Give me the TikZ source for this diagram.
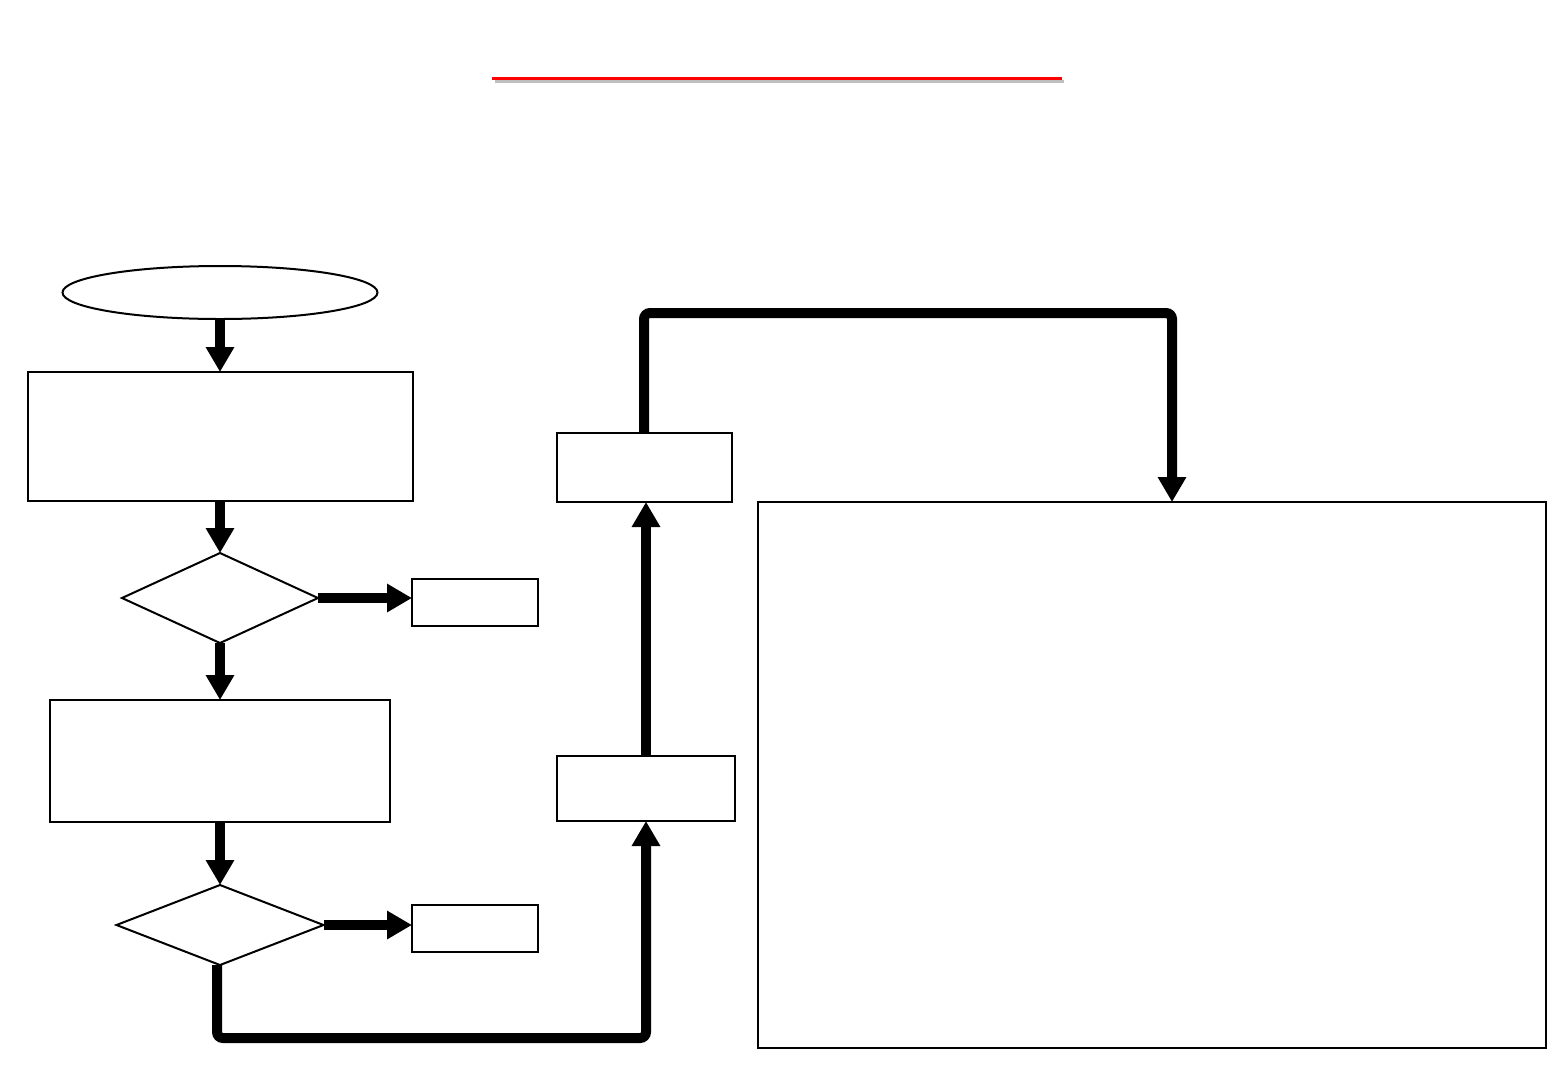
\documentclass[tikz,border=0pt]{standalone}
\usetikzlibrary{shapes.geometric,arrows.meta}
\begin{document}
\begin{tikzpicture}[x=1pt,y=-1pt,
  box/.style={draw,line width=2pt,rectangle,inner sep=0pt,outer sep=0pt},
  smallbox/.style={draw,line width=1.5pt,rectangle,inner sep=0pt,outer sep=0pt,minimum width=126pt,minimum height=47pt},
  decision/.style={draw,line width=2pt,diamond,inner sep=0pt,outer sep=0pt},
  flow/.style={line width=10pt,-{Triangle[width=27pt,length=25pt]}},
  route/.style={line width=10pt,rounded corners=6pt,-{Triangle[width=27pt,length=25pt]}}]
\useasboundingbox (0,0) rectangle (1560,1080);
% title rule with shadow
\draw[line width=3pt,gray!50] (495,81) -- (1064,81);
\draw[line width=3pt,red] (492,78.5) -- (1062,78.5);
% nodes
\node[draw,line width=2pt,ellipse,inner sep=0pt,outer sep=0pt,minimum width=315pt,minimum height=53pt] (start) at (220,292.5) {};
\node[box,minimum width=385pt,minimum height=129pt] (b1) at (220,436.5) {};
\node[decision,minimum width=196pt,minimum height=90pt] (d1) at (220,598) {};
\node[smallbox] (n1) at (475,602.5) {};
\node[box,minimum width=340pt,minimum height=122pt] (b2) at (220,761) {};
\node[decision,minimum width=207pt,minimum height=80pt] (d2) at (220,925) {};
\node[smallbox] (n2) at (475,928.5) {};
\node[box,minimum width=178pt,minimum height=65pt] (b4) at (646,788.5) {};
\node[box,minimum width=175pt,minimum height=69pt] (b3) at (644,467.5) {};
\node[box,minimum width=788pt,minimum height=546pt] (big) at (1152,775) {};
% connectors
\draw[flow] (start.south) -- (b1.north);
\draw[flow] (b1.south) -- (d1.north);
\draw[flow] (d1.south) -- (b2.north);
\draw[flow] (b2.south) -- (d2.north);
\draw[flow] (d1.east) -- (n1.west |- d1.east);
\draw[flow] (d2.east) -- (n2.west |- d2.east);
\draw[route] ([xshift=-3pt]d2.south) -- ++(0,73) -| (b4.south);
\draw[flow] (b4.north) -- (b4.north |- b3.south);
\draw[route] (b3.north) -- ++(0,-120) -| ([xshift=20pt]big.north);
\end{tikzpicture}
\end{document}
